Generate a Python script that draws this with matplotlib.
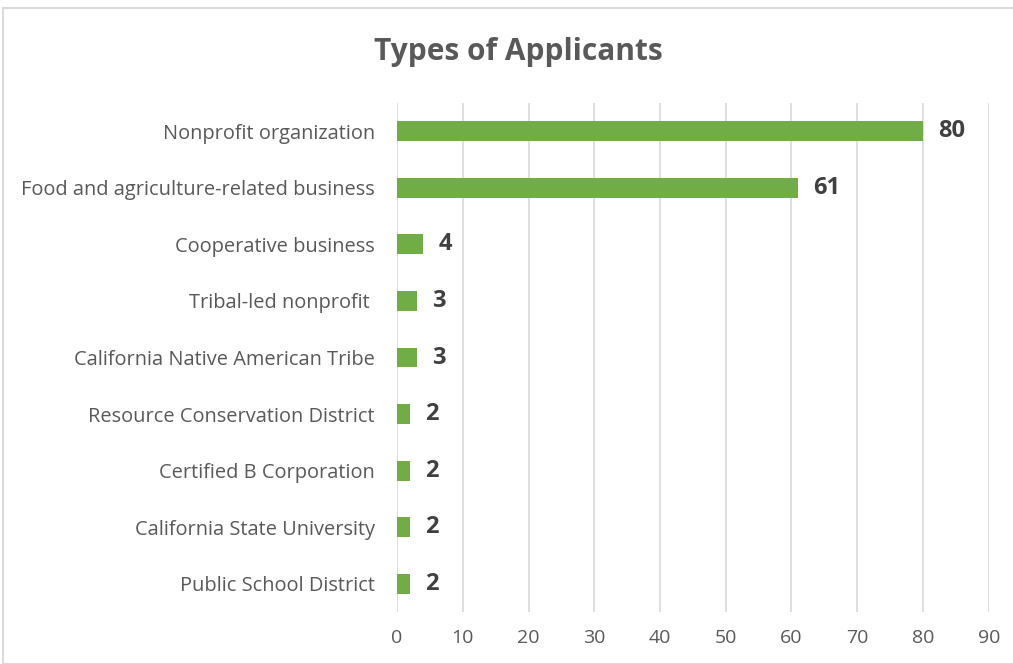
import matplotlib.pyplot as plt
from matplotlib.patches import Rectangle

categories = [
    "Nonprofit organization",
    "Food and agriculture-related business",
    "Cooperative business",
    "Tribal-led nonprofit ",
    "California Native American Tribe",
    "Resource Conservation District",
    "Certified B Corporation",
    "California State University",
    "Public School District",
]
counts = [80, 61, 4, 3, 3, 2, 2, 2, 2]
xticks = [0, 10, 20, 30, 40, 50, 60, 70, 80, 90]

plt.rcParams['font.family'] = ['Open Sans', 'DejaVu Sans']

fig = plt.figure(figsize=(10.13, 6.64), dpi=100)
ax = fig.add_axes([0.392, 0.078, 0.584, 0.767])

pos = list(range(len(categories)))
ax.barh(pos, counts, height=0.35, color="#70AD47", zorder=3)
ax.set_ylim(len(categories) - 0.5, -0.5)
ax.set_xlim(0, 90)
ax.set_xticks(xticks)
ax.set_yticks(pos)
ax.set_yticklabels(categories, fontsize=14.4, color="#595959")
ax.tick_params(axis="x", labelsize=14, labelcolor="#595959", length=0, pad=12)
ax.tick_params(axis="y", length=0, pad=16)
ax.grid(axis="x", color="#D9D9D9", linewidth=1.2, zorder=0)
for s in ax.spines.values():
    s.set_visible(False)

for p, v in zip(pos, counts):
    ax.text(v + 2.3, p, str(v), va="center", ha="left", fontsize=17,
            fontweight="bold", color="#404040")

fig.text(0.512, 0.922, "Types of Applicants", ha="center", va="center",
         fontsize=21.5, fontweight="bold", color="#595959")

fig.patches.append(Rectangle((3 / 1013, 0), 1, 1 - 8 / 664, transform=fig.transFigure,
                             fill=False, edgecolor="#D9D9D9", linewidth=1.5))

fig.savefig("out.png", dpi=100)
